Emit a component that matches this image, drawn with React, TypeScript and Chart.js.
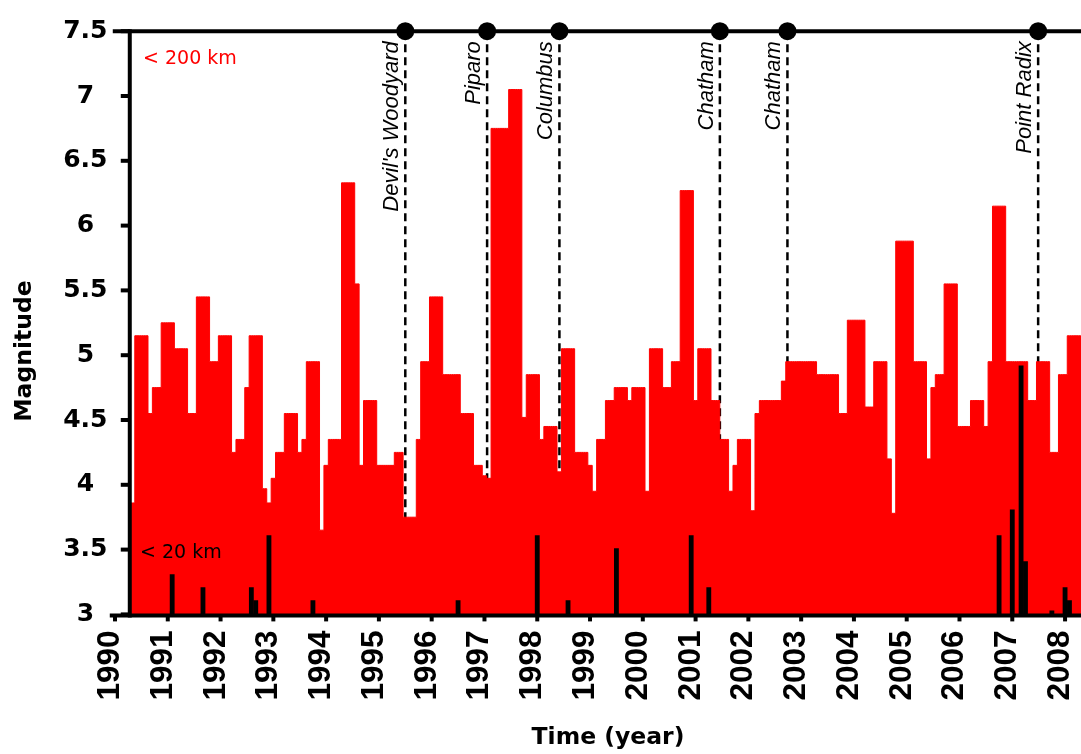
import { useEffect, useRef } from 'react';
import { Chart, registerables } from 'chart.js';

Chart.register(...registerables);

// Monthly maximum magnitude of events shallower than 200 km.
// First value is month index 3 (April 1990), counted from January 1990.
const firstMonthIndex = 3;
const mag200km = [
  // 1990 (Apr-Dec)
  3.1, 3.86, 5.15, 5.15, 5.15, 4.55, 4.75, 4.75, 5.25,
  // 1991
  5.25, 5.25, 5.05, 5.05, 5.05, 4.55, 4.55, 5.45, 5.45, 5.45, 4.95, 4.95,
  // 1992
  5.15, 5.15, 5.15, 4.25, 4.35, 4.35, 4.75, 5.15, 5.15, 5.15, 3.97, 3.86,
  // 1993
  4.05, 4.25, 4.25, 4.55, 4.55, 4.55, 4.25, 4.35, 4.95, 4.95, 4.95, 3.65,
  // 1994
  4.15, 4.35, 4.35, 4.35, 6.33, 6.33, 6.33, 5.55, 4.15, 4.65, 4.65, 4.65,
  // 1995
  4.15, 4.15, 4.15, 4.15, 4.25, 4.25, 3.75, 3.75, 3.75, 4.35, 4.95, 4.95,
  // 1996
  5.45, 5.45, 5.45, 4.85, 4.85, 4.85, 4.85, 4.55, 4.55, 4.55, 4.15, 4.15,
  // 1997
  4.07, 4.05, 6.75, 6.75, 6.75, 6.75, 7.05, 7.05, 7.05, 4.52, 4.85, 4.85,
  // 1998
  4.85, 4.35, 4.45, 4.45, 4.45, 4.1, 5.05, 5.05, 5.05, 4.25, 4.25, 4.25,
  // 1999
  4.15, 3.95, 4.35, 4.35, 4.65, 4.65, 4.75, 4.75, 4.75, 4.65, 4.75, 4.75,
  // 2000
  4.75, 3.95, 5.05, 5.05, 5.05, 4.75, 4.75, 4.95, 4.95, 6.27, 6.27, 6.27,
  // 2001
  4.65, 5.05, 5.05, 5.05, 4.65, 4.65, 4.35, 4.35, 3.95, 4.15, 4.35, 4.35,
  // 2002
  4.35, 3.8, 4.55, 4.65, 4.65, 4.65, 4.65, 4.65, 4.8, 4.95, 4.95, 4.95,
  // 2003
  4.95, 4.95, 4.95, 4.95, 4.85, 4.85, 4.85, 4.85, 4.85, 4.55, 4.55, 5.27,
  // 2004
  5.27, 5.27, 5.27, 4.6, 4.6, 4.95, 4.95, 4.95, 4.2, 3.78, 5.88, 5.88,
  // 2005
  5.88, 5.88, 4.95, 4.95, 4.95, 4.2, 4.75, 4.85, 4.85, 5.55, 5.55, 5.55,
  // 2006
  4.45, 4.45, 4.45, 4.65, 4.65, 4.65, 4.45, 4.95, 6.15, 6.15, 6.15, 4.95,
  // 2007
  4.95, 4.95, 4.95, 4.95, 4.65, 4.65, 4.95, 4.95, 4.95, 4.25, 4.25, 4.85,
  // 2008
  4.85, 5.15, 5.15, 5.15, 5.15,
];

// Events shallower than 20 km: month index (from Jan 1990) and magnitude
const shallowMonths = [13, 20, 31, 32, 35, 45, 78, 96, 103, 114, 131, 135, 201, 204, 206, 207, 213, 216, 217];
const shallowMag = [3.31, 3.21, 3.21, 3.11, 3.61, 3.11, 3.11, 3.61, 3.11, 3.51, 3.61, 3.21, 3.61, 3.81, 4.92, 3.41, 3.03, 3.21, 3.11];

// Mud volcano eruptions
const eventNames = ["Devil's Woodyard", 'Piparo', 'Columbus', 'Chatham', 'Chatham', 'Point Radix'];
const eventYears = [1995.5, 1997.05, 1998.42, 2001.46, 2002.74, 2007.49];

const yearTicks = [1990, 1991, 1992, 1993, 1994, 1995, 1996, 1997, 1998, 1999, 2000, 2001, 2002, 2003, 2004, 2005, 2006, 2007, 2008];
const magTicks = [3, 3.5, 4, 4.5, 5, 5.5, 6, 6.5, 7, 7.5];

const xMin = 1990;
const xMax = 2008.302;
const yMin = 3;
const yMax = 7.5;
const yAxisYear = 1990.28;

const monthToYear = (k: number) => 1990 + k / 12;

export default function App() {
  const ref = useRef<HTMLCanvasElement>(null);

  useEffect(() => {
    const canvas = ref.current;
    if (!canvas) return;

    const line = (ctx: CanvasRenderingContext2D, x1: number, y1: number, x2: number, y2: number) => {
      ctx.beginPath();
      ctx.moveTo(x1, y1);
      ctx.lineTo(x2, y2);
      ctx.stroke();
    };

    const decor = {
      id: 'decor',
      beforeDatasetsDraw(chart: any) {
        const { ctx, scales } = chart;
        const x = scales.x;
        const y = scales.y;
        ctx.save();
        ctx.strokeStyle = '#000';
        ctx.lineWidth = 2.5;
        ctx.setLineDash([8, 5]);
        eventYears.forEach((yr) => {
          const px = x.getPixelForValue(yr);
          line(ctx, px, y.getPixelForValue(yMax), px, y.getPixelForValue(yMin));
        });
        ctx.restore();
      },
      afterDatasetsDraw(chart: any) {
        const { ctx, scales, chartArea } = chart;
        const x = scales.x;
        const y = scales.y;
        const top = y.getPixelForValue(yMax);
        const bottom = y.getPixelForValue(yMin) + 1;
        const right = chartArea.right;
        const axisX = x.getPixelForValue(yAxisYear);

        ctx.save();
        ctx.strokeStyle = '#000';
        ctx.fillStyle = '#000';
        ctx.lineWidth = 4;
        ctx.lineCap = 'butt';
        // frame lines
        line(ctx, axisX - 17, top, right, top);
        line(ctx, axisX - 20, bottom, right, bottom);
        line(ctx, axisX, top - 2, axisX, bottom + 2);
        // y ticks
        magTicks.forEach((v) => {
          const py = y.getPixelForValue(v);
          line(ctx, axisX - 9, py, axisX, py);
        });
        // x ticks
        yearTicks.forEach((yr) => {
          const px = x.getPixelForValue(yr);
          line(ctx, px, bottom, px, bottom + 6);
        });
        // event dots
        eventYears.forEach((yr) => {
          const px = x.getPixelForValue(yr);
          ctx.beginPath();
          ctx.arc(px, top, 9, 0, Math.PI * 2);
          ctx.fill();
        });
        // event labels
        ctx.font = 'italic 22px "Liberation Sans"';
        ctx.textAlign = 'right';
        ctx.textBaseline = 'alphabetic';
        eventYears.forEach((yr, i) => {
          const px = x.getPixelForValue(yr);
          ctx.save();
          ctx.translate(px - 7, top + 10);
          ctx.rotate(-Math.PI / 2);
          ctx.fillText(eventNames[i], 0, 0);
          ctx.restore();
        });
        // x tick labels
        ctx.font = 'bold 31.5px "Liberation Sans"';
        yearTicks.forEach((yr) => {
          const px = x.getPixelForValue(yr);
          ctx.save();
          ctx.translate(px + 4, bottom + 15);
          ctx.rotate(-Math.PI / 2);
          ctx.fillText(String(yr), 0, 0);
          ctx.restore();
        });
        // axis titles
        ctx.font = 'bold 23.5px "DejaVu Sans"';
        ctx.textAlign = 'center';
        ctx.fillText('Time (year)', 608, 744);
        ctx.save();
        ctx.translate(31, 351);
        ctx.rotate(-Math.PI / 2);
        ctx.fillText('Magnitude', 0, 0);
        ctx.restore();
        // depth annotations
        ctx.font = '19px "DejaVu Sans"';
        ctx.textAlign = 'left';
        ctx.fillStyle = '#ff0000';
        ctx.fillText('< 200 km', 143, 64);
        ctx.fillStyle = '#000';
        ctx.fillText('< 20 km', 140, 558);
        ctx.restore();
      },
    };

    const chart = new Chart(canvas, {
      type: 'bar',
      data: {
        datasets: [
          {
            type: 'bar',
            label: '< 20 km',
            data: shallowMonths.map((k, i) => ({ x: monthToYear(k), y: shallowMag[i] })),
            backgroundColor: '#000',
            borderWidth: 0,
            barPercentage: 1.1,
            categoryPercentage: 1,
            grouped: false,
            order: 0,
          } as any,
          {
            type: 'line',
            label: '< 200 km',
            data: mag200km.map((v, i) => ({ x: monthToYear(firstMonthIndex + i), y: v })),
            stepped: 'middle',
            fill: 'start',
            backgroundColor: '#ff0000',
            borderColor: '#ff0000',
            borderWidth: 1,
            pointRadius: 0,
            order: 1,
          } as any,
        ],
      },
      options: {
        animation: false,
        responsive: true,
        maintainAspectRatio: false,
        layout: { padding: { top: 31.2, left: 0, right: 0, bottom: 0 } },
        plugins: {
          legend: { display: false },
          tooltip: { enabled: false },
        },
        scales: {
          x: {
            type: 'linear',
            min: xMin,
            max: xMax,
            offset: false,
            grid: { display: false, drawTicks: false },
            border: { display: false },
            ticks: { display: false, stepSize: 1 },
            afterFit: (s: any) => {
              s.height = 139.6;
              s.paddingLeft = 0;
              s.paddingRight = 0;
            },
          },
          y: {
            type: 'linear',
            min: yMin,
            max: yMax,
            beginAtZero: false,
            grid: { display: false, drawTicks: false },
            border: { display: false },
            ticks: {
              stepSize: 0.5,
              color: '#000',
              crossAlign: 'center',
              padding: 7.5,
              font: { family: '"DejaVu Sans"', weight: 'bold', size: 25 },
              callback: (v: any) => String(Number(v)),
            },
            afterFit: (s: any) => {
              s.width = 115;
              s.paddingTop = 0;
              s.paddingBottom = 0;
            },
          },
        },
      } as any,
      plugins: [decor],
    });

    return () => chart.destroy();
  }, []);

  return (
    <div style={{ position: 'fixed', left: 0, top: 0, width: 1081, height: 754, background: '#fff' }}>
      <canvas ref={ref} />
    </div>
  );
}
